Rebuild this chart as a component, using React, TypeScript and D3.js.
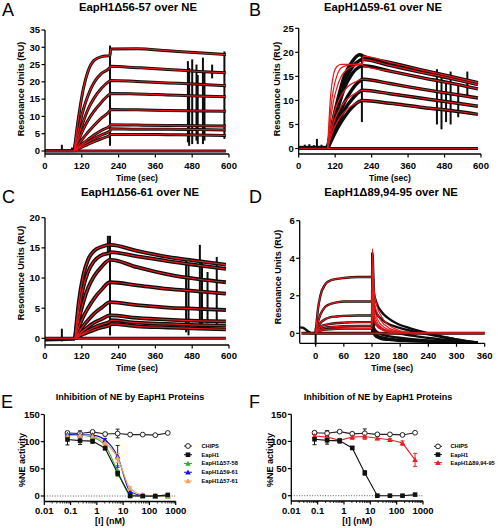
import React from "react";
import * as d3 from "d3";

type P = [number, number];

const FONT = "'Liberation Sans', Arial, Helvetica, sans-serif";
const RED = "#e3191c";
const BLK = "#0d0d0d";

// ---------------- Panel A: EapH1Δ56-57 over NE ----------------
const aTitle = "EapH1Δ56-57 over NE";
const aXTicks = [0, 120, 240, 360, 480, 600];
const aYTicks = [0, 5, 10, 15, 20, 25, 30, 35];
const aAssocT = [95, 105, 115, 125, 140, 160, 185, 212];
const aAssoc = [
  [0, 7, 13, 18, 23, 26.2, 27.3, 27.6],
  [0, 4.5, 8.5, 12, 16, 19.8, 22.5, 24.2],
  [0, 3, 6, 8.5, 12, 15.3, 18.2, 20.3],
  [0, 2.2, 4.3, 6.3, 8.8, 11.5, 14.2, 16.5],
  [0, 1.3, 2.6, 3.8, 5.4, 7.4, 9.6, 11.7],
  [0, 0.8, 1.6, 2.3, 3.3, 4.6, 6, 7.3],
  [0, 0.6, 1.2, 1.8, 2.6, 3.6, 4.7, 5.8],
  [0, 0.4, 0.9, 1.3, 1.9, 2.7, 3.6, 4.6],
];
const aDissT = [214, 300, 400, 500, 590];
const aDiss = [
  [29.5, 29.6, 29.0, 28.4, 27.9],
  [24.5, 24.1, 23.6, 23.0, 22.6],
  [20.4, 20.1, 19.7, 19.3, 18.9],
  [16.6, 16.5, 16.2, 15.9, 15.7],
  [12.0, 11.9, 11.7, 11.6, 11.5],
  [7.6, 7.5, 7.4, 7.3, 7.2],
  [6.4, 6.3, 6.3, 6.2, 6.1],
  [4.8, 4.8, 4.7, 4.6, 4.5],
];
const aSpikes = [
  [55, 0, 1.8], [88, 0, 1.0], [212, 1.5, 30.5],
  [466, 2.5, 26], [470, 1.5, 24], [480, 2, 26.5], [494, 3, 25],
  [498, 2, 22], [515, 2, 27], [520, 3, 23], [545, 21, 25], [585, 3.5, 28.8],
];

// ---------------- Panel B: EapH1Δ59-61 over NE ----------------
const bTitle = "EapH1Δ59-61 over NE";
const bXTicks = [0, 120, 240, 360, 480, 600];
const bYTicks = [0, 5, 10, 15, 20, 25];
const bFitT = [95, 105, 115, 125, 140, 160, 185, 210];
const bFit = [
  [0, 11, 15.5, 17, 17.5, 17.5, 17.5, 17.6],
  [0, 8, 12.5, 15, 16.8, 17.3, 17.5, 17.6],
  [0, 6, 10, 12.5, 15, 16.5, 17.2, 17.5],
  [0, 4, 7, 9, 11, 12.8, 13.8, 14.4],
  [0, 3, 5.3, 7, 8.8, 10.3, 11.4, 12.1],
  [0, 2.2, 4, 5.3, 6.8, 8.2, 9.3, 10],
];
const bBlackT = [95, 110, 130, 150, 175, 200, 210];
const bBlack = [
  [0, 5, 10.5, 15, 18, 19.5, 19.3],
  [0, 4.5, 9.5, 13.8, 16.8, 18.3, 18.5],
  [0, 4, 8.5, 12.5, 15.5, 17, 17.2],
  [0, 3, 6.5, 9.5, 12.2, 14, 14.4],
  [0, 2.5, 5.5, 8, 10.2, 11.8, 12.1],
  [0, 2, 4.5, 6.5, 8.5, 9.8, 10],
];
const bDissT = [212, 300, 400, 500, 590];
const bDiss = [
  [19.2, 17.9, 16.4, 15.0, 13.7],
  [18.5, 17.3, 15.9, 14.6, 13.3],
  [17.2, 16.1, 14.8, 13.6, 12.4],
  [14.4, 13.5, 12.4, 11.4, 10.5],
  [12.1, 11.4, 10.5, 9.6, 8.8],
  [10.0, 9.4, 8.6, 7.9, 7.1],
];
const bSpikes = [
  [20, -0.3, 0.8], [35, -0.3, 0.9], [50, -0.2, 0.7], [60, 0, 2], [75, -0.3, 0.8],
  [208, 5.5, 19], [455, 5, 16.5], [470, 4, 15], [485, 5.5, 14], [500, 5, 16],
  [525, 6.5, 13], [555, 11, 16],
];

// ---------------- Panel C: EapH1Δ56-61 over NE ----------------
const cTitle = "EapH1Δ56-61 over NE";
const cXTicks = [0, 120, 240, 360, 480, 600];
const cYTicks = [0, 5, 10, 15, 20];
const cAssocT = [98, 110, 125, 140, 160, 185, 212];
const cAssoc = [
  [0, 6, 10.5, 13, 14.5, 15.2, 15.5],
  [0, 4.5, 8.5, 11, 12.8, 13.8, 14.2],
  [0, 3, 6, 8.3, 10.3, 11.9, 13.0],
  [0, 1.8, 3.6, 5, 6.6, 8.1, 9.3],
  [0, 1, 2.1, 3, 4.1, 5.1, 6.0],
  [0, 0.6, 1.3, 1.9, 2.6, 3.2, 3.8],
  [0, 0.4, 0.9, 1.3, 1.8, 2.3, 2.8],
  [0, 0.3, 0.7, 1.0, 1.4, 1.8, 2.2],
];
const cDissT = [214, 300, 400, 500, 590];
const cDiss = [
  [15.5, 14.5, 13.5, 12.8, 12.2],
  [14.3, 13.6, 12.8, 12.1, 11.5],
  [13.0, 11.8, 10.6, 9.8, 9.3],
  [9.3, 8.8, 8.2, 7.8, 7.4],
  [6.0, 5.5, 5.1, 4.9, 4.7],
  [3.8, 3.4, 3.1, 2.9, 2.8],
  [3.0, 2.6, 2.4, 2.2, 2.1],
  [2.4, 2.0, 1.8, 1.6, 1.5],
];
const cSpikes = [
  [55, -0.5, 1.6], [205, 14, 17], [212, 0.5, 17], [460, 1, 13], [468, 0.5, 12.5],
  [505, 1.5, 15.5], [512, 2, 13], [530, 2.5, 11], [560, 2, 13.5],
];

// ---------------- Panel D: EapH1Δ89,94-95 over NE ----------------
const dTitle = "EapH1Δ89,94-95 over NE";
const dXTicks = [0, 60, 120, 180, 240, 300, 360];
const dYTicks = [0, 2, 4, 6];
const dAssocT = [0, 5, 10, 20, 30, 45, 60, 90, 120];
const dAssoc = [
  [0, 1.3, 2.0, 2.6, 2.8, 2.9, 2.95, 3.0, 3.0],
  [0, 0.6, 1.0, 1.4, 1.55, 1.65, 1.7, 1.7, 1.7],
  [0, 0.35, 0.55, 0.75, 0.85, 0.9, 0.93, 0.95, 0.95],
  [0, 0.2, 0.35, 0.45, 0.5, 0.55, 0.57, 0.6, 0.6],
  [0, 0.15, 0.22, 0.3, 0.33, 0.36, 0.38, 0.4, 0.4],
  [0, 0.1, 0.15, 0.2, 0.22, 0.24, 0.25, 0.25, 0.25],
];
const dRedT = [120, 121, 124, 130, 140, 155, 175, 200, 240, 360];
const dRed = [
  [3.0, 4.5, 2.4, 1.5, 0.9, 0.45, 0.18, 0.06, 0.01, 0],
  [1.7, 3.9, 1.9, 1.15, 0.65, 0.3, 0.12, 0.04, 0.01, 0],
  [0.95, 3.3, 1.5, 0.85, 0.45, 0.2, 0.08, 0.03, 0, 0],
  [0.6, 2.8, 1.2, 0.65, 0.32, 0.14, 0.05, 0.02, 0, 0],
  [0.4, 2.3, 0.95, 0.5, 0.25, 0.1, 0.04, 0.01, 0, 0],
  [0.25, 1.8, 0.75, 0.4, 0.2, 0.08, 0.03, 0.01, 0, 0],
];
const dBlkT = [120, 121, 124, 130, 140, 155, 175, 200, 240, 280, 320, 345];
const dBlk = [
  [3.0, 4.3, 2.2, 1.6, 1.15, 0.8, 0.5, 0.28, 0.0, -0.22, -0.42, -0.5],
  [1.7, 3.6, 1.4, 1.05, 0.75, 0.5, 0.32, 0.15, -0.05, -0.25, -0.4, -0.48],
  [0.95, 2.8, 0.7, 0.45, 0.25, 0.1, 0.0, -0.1, -0.25, -0.35, -0.45, -0.5],
  [0.6, 2.2, 0.3, 0.1, -0.05, -0.15, -0.22, -0.3, -0.38, -0.42, -0.48, -0.5],
  [0.4, 1.6, 0.1, -0.1, -0.2, -0.28, -0.33, -0.38, -0.42, -0.45, -0.5, -0.5],
  [0.25, 1.2, -0.05, -0.2, -0.3, -0.35, -0.4, -0.42, -0.45, -0.48, -0.5, -0.5],
];
const dPre: P[] = [[-33, 0.32], [-28, 0.3], [-22, 0.22], [-15, 0.08], [-8, 0.0], [-3, 0.02], [0, 0]];
const dSpikes = [[0, -0.6, 0.3], [120, 0, 4.3]];

// ---------------- Panels E / F: inhibition of NE ----------------
const concs = [0.0762, 0.229, 0.686, 2.06, 6.17, 18.5, 55.6, 166.7, 500];
const logTicks = [0.01, 0.1, 1, 10, 100, 1000];
const logTickLabels = ["0.01", "0.1", "1", "10", "100", "1000"];
const inhYTicks = [0, 50, 100, 150];
const chipsVals = [116, 115, 118, 114, 115, 113, 113, 112, 116];
const chipsErr = [3, 5, 2, 3, 8, 1, 1, 1, 1];
const eapVals = [104, 102, 101, 88, 42, 0, 0, 0, 2];
const eapErr = [10, 7, 4, 3, 4, 1, 1, 1, 1];
const d5758Vals = [112, 112, 108, 93, 46, 2, 0, -1, -1];
const d5758Err = [3, 3, 3, 3, 10, 2, 1, 1, 1];
const d5961Vals = [113, 113, 112, 103, 73, 8, 1, 0, 1];
const d5961Err = [3, 3, 3, 3, 20, 3, 1, 1, 1];
const d5761Vals = [111, 112, 110, 98, 70, 14, 2, 0, 0];
const d5761Err = [3, 3, 3, 3, 8, 3, 1, 1, 1];
const d8995Vals = [110, 108, 102, 108, 109, 106, 103, 97, 66];
const d8995Err = [4, 4, 3, 4, 5, 3, 2, 4, 12];

// ---------------- helpers ----------------
const pts = (ts: number[], vs: number[]): P[] => ts.map((t, i) => [t, vs[i]] as P);

interface SprCfg {
  letter: string; letterX: number; letterY: number;
  title: string; titleX: number; titleY: number;
  left: number; right: number; top: number; bottom: number;
  tMin: number; tMax: number; yMin: number; yMax: number;
  xTicks: number[]; yTicks: number[];
  tickBase: number; xLabelY: number; yLabelX: number; yLabelY: number;
  traceW: number; blacks: P[][]; reds: P[][];
  zero: [number, number]; base: P[]; spikes: number[][];
}

function SprPanel({ c }: { c: SprCfg }) {
  const x = d3.scaleLinear().domain([c.tMin, c.tMax]).range([c.left, c.right]);
  const y = d3.scaleLinear().domain([c.yMin, c.yMax]).range([c.bottom, c.top]);
  const lin = d3.line<P>().x((d) => x(d[0])).y((d) => y(d[1]));
  const sm = d3.line<P>().x((d) => x(d[0])).y((d) => y(d[1])).curve(d3.curveMonotoneX);
  const zeroPts: P[] = [[c.zero[0], 0], [c.zero[1], 0]];
  return (
    <g fontFamily={FONT}>
      <text x={c.letterX} y={c.letterY} fontSize={18}>{c.letter}</text>
      <text x={c.titleX} y={c.titleY} textAnchor="middle" fontSize={11.3} fontWeight="bold">{c.title}</text>
      <path d={lin(zeroPts) || ""} stroke={BLK} strokeWidth={3} fill="none" />
      <path d={sm(c.base) || ""} stroke={BLK} strokeWidth={c.traceW} fill="none" strokeLinejoin="round" />
      {c.blacks.map((b, i) => (
        <path key={"b" + i} d={sm(b) || ""} stroke={BLK} strokeWidth={c.traceW} fill="none" strokeLinejoin="round" />
      ))}
      {c.spikes.map((s, i) => (
        <line key={"s" + i} x1={x(s[0])} x2={x(s[0])} y1={y(s[1])} y2={y(s[2])} stroke={BLK} strokeWidth={2} />
      ))}
      {c.reds.map((r, i) => (
        <path key={"r" + i} d={sm(r) || ""} stroke={RED} strokeWidth={1.2} fill="none" />
      ))}
      <path d={lin(zeroPts) || ""} stroke="#c4161a" strokeWidth={1.6} fill="none" />
      {/* axes */}
      <line x1={c.left} x2={c.left} y1={y(c.yMax)} y2={c.bottom} stroke="#000" strokeWidth={1.3} />
      <line x1={c.left} x2={c.right} y1={c.bottom} y2={c.bottom} stroke="#000" strokeWidth={1.3} />
      {c.yTicks.map((t) => (
        <g key={"yt" + t}>
          <line x1={c.left - 3.5} x2={c.left} y1={y(t)} y2={y(t)} stroke="#000" strokeWidth={1.2} />
          <text x={c.left - 5} y={y(t)} dy="0.35em" textAnchor="end" fontSize={9.5} fontWeight="bold">{t}</text>
        </g>
      ))}
      {c.xTicks.map((t) => (
        <g key={"xt" + t}>
          <line x1={x(t)} x2={x(t)} y1={c.bottom} y2={c.bottom + 3.5} stroke="#000" strokeWidth={1.2} />
          <text x={x(t)} y={c.tickBase} textAnchor="middle" fontSize={9.5} fontWeight="bold">{t}</text>
        </g>
      ))}
      <text x={(c.left + c.right) / 2} y={c.xLabelY} textAnchor="middle" fontSize={8.5} fontWeight="bold">Time (sec)</text>
      <text transform={`translate(${c.yLabelX},${c.yLabelY}) rotate(-90)`} dy="0.35em" textAnchor="middle" fontSize={9} fontWeight="bold">
        Resonance Units (RU)
      </text>
    </g>
  );
}

interface Series {
  name: string; vals: number[]; errs: number[]; color: string;
  marker: "circle" | "square" | "tri"; smooth: boolean;
}
interface InhCfg {
  letter: string; letterX: number; letterY: number; titleX: number; titleY: number;
  left: number; right: number; y0: number; y150: number; axisY: number;
  yLabelX: number; yLabelY: number; series: Series[];
  legMarkX: number; legTextX: number; legY: number[];
}

function Marker({ m, cx, cy, color }: { m: string; cx: number; cy: number; color: string }) {
  if (m === "circle") return <circle cx={cx} cy={cy} r={2.4} fill="#fff" stroke={color} strokeWidth={1} />;
  if (m === "square") return <rect x={cx - 2.3} y={cy - 2.3} width={4.6} height={4.6} fill={color} />;
  const s = 2.8;
  return <path d={`M${cx},${cy - s}L${cx + s},${cy + s * 0.8}L${cx - s},${cy + s * 0.8}Z`} fill={color} />;
}

function InhPanel({ c }: { c: InhCfg }) {
  const x = d3.scaleLog().domain([0.01, 1000]).range([c.left, c.right]);
  const y = d3.scaleLinear().domain([0, 150]).range([c.y0, c.y150]);
  const minor: number[] = [];
  for (let e = -2; e < 3; e++) for (let k = 2; k < 10; k++) minor.push(k * Math.pow(10, e));
  return (
    <g fontFamily={FONT}>
      <text x={c.letterX} y={c.letterY} fontSize={18}>{c.letter}</text>
      <text x={c.titleX} y={c.titleY} textAnchor="middle" fontSize={9} fontWeight="bold">Inhibition of NE by EapH1 Proteins</text>
      <line x1={c.left} x2={c.right} y1={y(0)} y2={y(0)} stroke="#333" strokeWidth={0.8} strokeDasharray="1,1.6" />
      {c.series.map((s) => {
        const ps: P[] = concs.map((k, i) => [x(k), y(s.vals[i])] as P);
        const ln = d3.line<P>().curve(s.smooth ? d3.curveMonotoneX : d3.curveLinear);
        return (
          <g key={s.name}>
            <path d={ln(ps) || ""} stroke={s.color} strokeWidth={1.1} fill="none" />
            {concs.map((k, i) => (
              <g key={i}>
                <line x1={x(k)} x2={x(k)} y1={y(s.vals[i] - s.errs[i])} y2={y(s.vals[i] + s.errs[i])} stroke={s.color} strokeWidth={1} />
                <line x1={x(k) - 2} x2={x(k) + 2} y1={y(s.vals[i] + s.errs[i])} y2={y(s.vals[i] + s.errs[i])} stroke={s.color} strokeWidth={1} />
                <line x1={x(k) - 2} x2={x(k) + 2} y1={y(s.vals[i] - s.errs[i])} y2={y(s.vals[i] - s.errs[i])} stroke={s.color} strokeWidth={1} />
              </g>
            ))}
          </g>
        );
      })}
      {c.series.map((s) => (
        <g key={"m" + s.name}>
          {concs.map((k, i) => (
            <Marker key={i} m={s.marker} cx={x(k)} cy={y(s.vals[i])} color={s.color} />
          ))}
        </g>
      ))}
      {/* axes */}
      <line x1={c.left} x2={c.left} y1={y(150)} y2={c.axisY} stroke="#000" strokeWidth={1.3} />
      <line x1={c.left} x2={c.right} y1={c.axisY} y2={c.axisY} stroke="#000" strokeWidth={1.3} />
      {inhYTicks.map((t) => (
        <g key={"yt" + t}>
          <line x1={c.left - 3.5} x2={c.left} y1={y(t)} y2={y(t)} stroke="#000" strokeWidth={1.2} />
          <text x={c.left - 4.5} y={y(t)} dy="0.35em" textAnchor="end" fontSize={9.5} fontWeight="bold">{t}</text>
        </g>
      ))}
      {minor.map((t, i) => (
        <line key={"mn" + i} x1={x(t)} x2={x(t)} y1={c.axisY} y2={c.axisY + 2} stroke="#000" strokeWidth={0.8} />
      ))}
      {logTicks.map((t, i) => (
        <g key={"xt" + i}>
          <line x1={x(t)} x2={x(t)} y1={c.axisY} y2={c.axisY + 3.5} stroke="#000" strokeWidth={1.2} />
          <text x={x(t)} y={c.axisY + 12.5} textAnchor="middle" fontSize={9.5} fontWeight="bold">{logTickLabels[i]}</text>
        </g>
      ))}
      <text x={(c.left + c.right) / 2} y={c.axisY + 22.5} textAnchor="middle" fontSize={9} fontWeight="bold">[I] (nM)</text>
      <text transform={`translate(${c.yLabelX},${c.yLabelY}) rotate(-90)`} dy="0.35em" textAnchor="middle" fontSize={9} fontWeight="bold">
        %NE activity
      </text>
      {c.series.map((s, i) => (
        <g key={"lg" + s.name}>
          <line x1={c.legMarkX - 4} x2={c.legMarkX + 4} y1={c.legY[i]} y2={c.legY[i]} stroke={s.color} strokeWidth={1} />
          <Marker m={s.marker} cx={c.legMarkX} cy={c.legY[i]} color={s.color} />
          <text x={c.legTextX} y={c.legY[i]} dy="0.35em" fontSize={5.7} fontWeight="bold">{s.name}</text>
        </g>
      ))}
    </g>
  );
}

// ---------------- configs ----------------
const panelA: SprCfg = {
  letter: "A", letterX: 2, letterY: 16, title: aTitle, titleX: 138, titleY: 11,
  left: 45, right: 229, top: 30, bottom: 154, tMin: 0, tMax: 600, yMin: -0.87, yMax: 35,
  xTicks: aXTicks, yTicks: aYTicks, tickBase: 168.5, xLabelY: 181, yLabelX: 21, yLabelY: 89,
  traceW: 3,
  blacks: aAssoc.map((v, i) => [...pts(aAssocT, v), ...pts(aDissT, aDiss[i])]),
  reds: aAssoc.map((v, i) => [...pts(aAssocT, v), ...pts(aDissT, aDiss[i])]),
  zero: [0, 590], base: [[0, 0.1], [95, 0.1]], spikes: aSpikes,
};
const panelB: SprCfg = {
  letter: "B", letterX: 249, letterY: 16, title: bTitle, titleX: 383, titleY: 11,
  left: 298.7, right: 481, top: 28.3, bottom: 154, tMin: 0, tMax: 600, yMin: -1.14, yMax: 25,
  xTicks: bXTicks, yTicks: bYTicks, tickBase: 168.5, xLabelY: 181, yLabelX: 277, yLabelY: 89,
  traceW: 3.5,
  blacks: bBlack.map((v, i) => [...pts(bBlackT, v), ...pts(bDissT, bDiss[i])]),
  reds: bFit.map((v, i) => [...pts(bFitT, v), ...pts(bDissT, bDiss[i])]),
  zero: [0, 590], base: [[0, 0.2], [95, 0.2]], spikes: bSpikes,
};
const panelC: SprCfg = {
  letter: "C", letterX: 2, letterY: 203, title: cTitle, titleX: 140, titleY: 196,
  left: 45, right: 229, top: 217.7, bottom: 345, tMin: 0, tMax: 600, yMin: -1.1, yMax: 20,
  xTicks: cXTicks, yTicks: cYTicks, tickBase: 358.5, xLabelY: 371, yLabelX: 21, yLabelY: 273,
  traceW: 3.8,
  blacks: cAssoc.map((v, i) => [...pts(cAssocT, v), ...pts(cDissT, cDiss[i])]),
  reds: cAssoc.map((v, i) => [...pts(cAssocT, v), ...pts(cDissT, cDiss[i])]),
  zero: [0, 590], base: [[0, -0.2], [98, -0.1]], spikes: cSpikes,
};
const panelD: SprCfg = {
  letter: "D", letterX: 249, letterY: 203, title: dTitle, titleX: 391, titleY: 196,
  left: 299.7, right: 484.7, top: 220.7, bottom: 343.3, tMin: -34, tMax: 360, yMin: -0.53, yMax: 6,
  xTicks: dXTicks, yTicks: dYTicks, tickBase: 358.5, xLabelY: 371, yLabelX: 278, yLabelY: 277,
  traceW: 2.4,
  blacks: dAssoc.map((v, i) => [...pts(dAssocT, v), ...pts(dBlkT, dBlk[i]).slice(1)]),
  reds: dAssoc.map((v, i) => [...pts(dAssocT, v), ...pts(dRedT, dRed[i]).slice(1)]),
  zero: [-30, 360], base: dPre, spikes: dSpikes,
};

const chipsS: Series = { name: "CHIPS", vals: chipsVals, errs: chipsErr, color: "#222", marker: "circle", smooth: false };
const eapS: Series = { name: "EapH1", vals: eapVals, errs: eapErr, color: "#111", marker: "square", smooth: false };

// legend order in E: CHIPS, EapH1, Δ57-58, Δ59-61, Δ57-61 (drawing order differs)
const panelE: InhCfg = {
  letter: "E", letterX: 1, letterY: 408, titleX: 130, titleY: 400,
  left: 44.3, right: 175.7, y0: 496, y150: 414.5, axisY: 501.5, yLabelX: 21.5, yLabelY: 460,
  series: [
    chipsS,
    { name: "EapH1Δ57-58", vals: d5758Vals, errs: d5758Err, color: "#2bb52b", marker: "tri", smooth: true },
    { name: "EapH1Δ59-61", vals: d5961Vals, errs: d5961Err, color: "#1515d0", marker: "tri", smooth: true },
    { name: "EapH1Δ57-61", vals: d5761Vals, errs: d5761Err, color: "#f0a45a", marker: "tri", smooth: true },
    eapS,
  ],
  legMarkX: 188, legTextX: 201.5, legY: [446, 463.5, 472.25, 481, 454.75],
};

const panelF: InhCfg = {
  letter: "F", letterX: 249, letterY: 408, titleX: 378, titleY: 400,
  left: 291.3, right: 423, y0: 495.7, y150: 414.3, axisY: 501, yLabelX: 269.5, yLabelY: 460,
  series: [
    chipsS,
    { name: "EapH1Δ89,94-95", vals: d8995Vals, errs: d8995Err, color: "#e02424", marker: "tri", smooth: false },
    eapS,
  ],
  legMarkX: 438, legTextX: 450.5, legY: [446.4, 462.7, 454.6],
};

export default function App() {
  return (
    <svg width={498} height={528} style={{ position: "absolute", left: 0, top: 0, background: "#fff" }}>
      <rect x={0} y={0} width={498} height={528} fill="#fff" />
      <SprPanel c={panelA} />
      <SprPanel c={panelB} />
      <SprPanel c={panelC} />
      <SprPanel c={panelD} />
      <InhPanel c={panelE} />
      <InhPanel c={panelF} />
    </svg>
  );
}
